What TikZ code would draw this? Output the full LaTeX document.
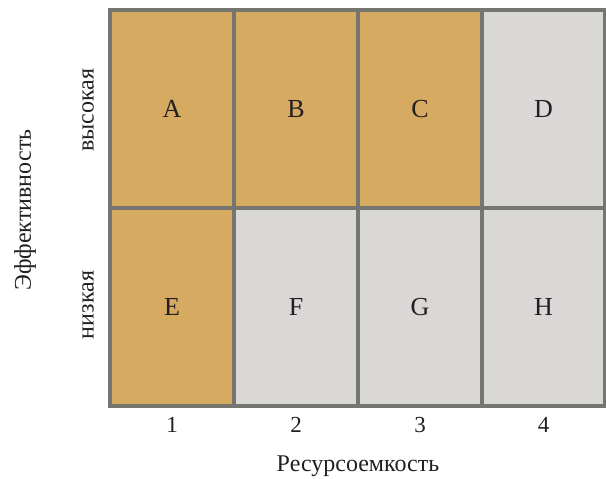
\documentclass[tikz,border=0pt]{standalone}
\usepackage{fontspec}
\setmainfont{Liberation Serif}
\definecolor{orangecell}{HTML}{D7AA62}
\definecolor{graycell}{HTML}{D9D8D6}
\definecolor{gridline}{HTML}{767670}
\definecolor{txt}{HTML}{231F20}
\begin{document}
\begin{tikzpicture}[x=1pt,y=1pt,
  cell/.style={draw=gridline,line width=3.5pt,minimum width=124pt,minimum height=198pt,inner sep=0pt,font=\fontsize{26}{28}\selectfont,text=txt},
  hi/.style={cell,fill=orangecell},
  lo/.style={cell,fill=graycell},
  lab/.style={font=\fontsize{24}{26}\selectfont,text=txt},
  num/.style={font=\fontsize{23}{25}\selectfont,text=txt}]
\useasboundingbox (0,0) rectangle (606,479);
\node[hi] (A) at (172,370) {A};
\node[hi] (B) at (296,370) {B};
\node[hi] (C) at (420,370) {C};
\node[lo,minimum width=123pt] (D) at (543.5,370) {D};
\node[hi] (E) at (172,172) {E};
\node[lo] (F) at (296,172) {F};
\node[lo] (G) at (420,172) {G};
\node[lo,minimum width=123pt] (H) at (543.5,172) {H};
\node[num] (n1) at (172,54) {1};
\node[num] (n2) at (296,54) {2};
\node[num] (n3) at (420,54) {3};
\node[num] (n4) at (543.5,54) {4};
\node[lab] (xl) at (358,13) {Ресурсоемкость};
\node[lab,rotate=90] (hiL) at (88,369) {высокая};
\node[lab,rotate=90] (loL) at (88,174) {низкая};
\node[lab,rotate=90] (yl) at (25,269) {Эффективность};
\end{tikzpicture}
\end{document}
